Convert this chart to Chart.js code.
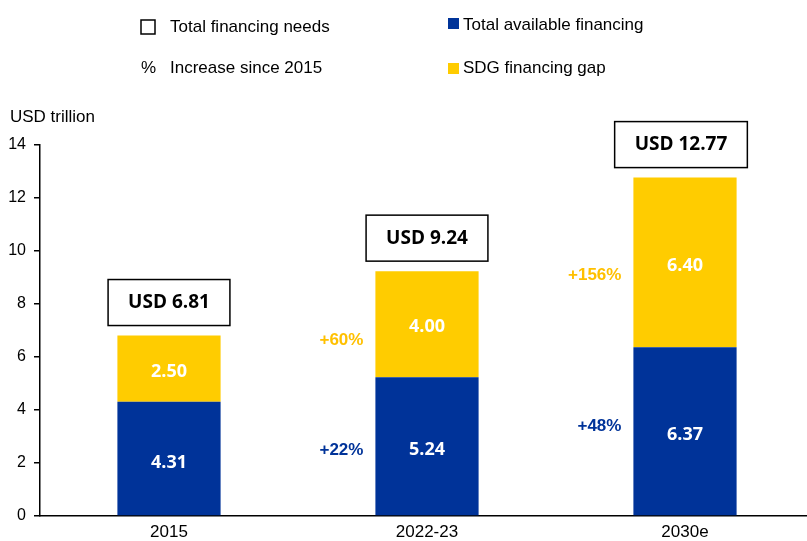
<!DOCTYPE html>
<html>
<head>
<meta charset="utf-8">
<script src="https://cdn.jsdelivr.net/npm/chart.js@4.4.1/dist/chart.umd.min.js"></script>
<style>
  html, body { margin: 0; padding: 0; background: #fff; overflow: hidden; }
</style>
</head>
<body>
<canvas id="myChart" width="814" height="541"></canvas>
<script>
const categories = ['2015', '2022-23', '2030e'];
const availableFinancing = [4.31, 5.24, 6.37];
const financingGap = [2.50, 4.00, 6.40];
const totalNeeds = [6.81, 9.24, 12.77];
const availableIncrease = [null, '+22%', '+48%'];
const gapIncrease = [null, '+60%', '+156%'];
const yMax = 14;
const yStep = 2;

const BLUE = '#003399';
const YELLOW = '#FFCC00';
const SANS = '"Liberation Sans", Arial, sans-serif';
const BOLD = '"Open Sans", sans-serif';

// nudges for the % labels, in pixels (they are not exactly centred in the original)
const availNudge = [0, 4, -5];
const gapNudge = [0, 16, 13];

const ctx = document.getElementById('myChart');

const annotate = {
  id: 'annotate',
  afterDatasetsDraw(chart) {
    const c = chart.ctx;
    const blueMeta = chart.getDatasetMeta(0);
    const gapMeta = chart.getDatasetMeta(1);
    c.save();
    c.textBaseline = 'middle';

    // values inside the bars
    c.font = 'bold 18px ' + BOLD;
    c.fillStyle = '#fff';
    c.textAlign = 'center';
    blueMeta.data.forEach((el, i) => {
      c.fillText(availableFinancing[i].toFixed(2), el.x, (el.y + el.base) / 2 + 4);
    });
    gapMeta.data.forEach((el, i) => {
      c.fillText(financingGap[i].toFixed(2), el.x, (el.y + el.base) / 2 + 3);
    });

    // total boxes
    c.font = 'bold 19px ' + BOLD;
    gapMeta.data.forEach((el, i) => {
      const txt = 'USD ' + totalNeeds[i].toFixed(2);
      const w = c.measureText(txt).width + 40;
      const h = 46;
      const bottom = el.y - 10;
      const cx = el.x - (i === 2 ? 4 : 0);
      c.fillStyle = '#fff';
      c.fillRect(cx - w / 2, bottom - h, w, h);
      c.strokeStyle = '#000';
      c.lineWidth = 1.5;
      c.strokeRect(cx - w / 2, bottom - h, w, h);
      c.fillStyle = '#000';
      c.fillText(txt, cx, bottom - h / 2);
    });

    // % increase labels
    c.font = 'bold 17px ' + SANS;
    c.textAlign = 'right';
    blueMeta.data.forEach((el, i) => {
      if (!availableIncrease[i]) return;
      c.fillStyle = BLUE;
      c.fillText(availableIncrease[i], el.x - el.width / 2 - 12, (el.y + el.base) / 2 + availNudge[i]);
    });
    gapMeta.data.forEach((el, i) => {
      if (!gapIncrease[i]) return;
      c.fillStyle = '#FFC000';
      c.fillText(gapIncrease[i], el.x - el.width / 2 - 12, (el.y + el.base) / 2 + gapNudge[i]);
    });

    // legend
    c.textAlign = 'left';
    c.font = '17px ' + SANS;
    c.fillStyle = '#000';
    c.strokeStyle = '#000';
    c.lineWidth = 1.5;
    c.strokeRect(141, 20, 14, 14);
    c.fillText('Total financing needs', 170, 27);
    c.fillText('%', 141, 68);
    c.fillText('Increase since 2015', 170, 68);
    c.fillStyle = BLUE;
    c.fillRect(448, 18, 11, 11);
    c.fillStyle = YELLOW;
    c.fillRect(448, 63, 11, 11);
    c.fillStyle = '#000';
    c.fillText('Total available financing', 463, 25);
    c.fillText('SDG financing gap', 463, 68);

    // unit label
    c.fillText('USD trillion', 10, 117);
    c.restore();
  }
};

const myChart = new Chart(ctx, {
  type: 'bar',
  data: {
    labels: categories,
    datasets: [
      {
        label: 'Total available financing',
        data: availableFinancing,
        backgroundColor: BLUE,
        barPercentage: 0.4,
        categoryPercentage: 1
      },
      {
        label: 'SDG financing gap',
        data: financingGap,
        backgroundColor: YELLOW,
        barPercentage: 0.4,
        categoryPercentage: 1
      }
    ]
  },
  options: {
    responsive: false,
    animation: false,
    devicePixelRatio: 1,
    events: [],
    layout: { padding: { top: 145, left: 0, right: 0, bottom: 0 } },
    plugins: {
      legend: { display: false },
      tooltip: { enabled: false }
    },
    scales: {
      x: {
        stacked: true,
        grid: { display: false, drawTicks: false },
        border: { display: true, color: '#000', width: 1.5 },
        ticks: { color: '#000', padding: 6, font: { family: SANS, size: 17 } },
        afterFit(scale) { scale.height = 25; }
      },
      y: {
        stacked: true,
        min: 0,
        max: yMax,
        grid: { drawOnChartArea: false, drawTicks: true, tickLength: 6, color: '#000', lineWidth: 1.5 },
        border: { display: true, color: '#000', width: 1.5 },
        ticks: { stepSize: yStep, color: '#000', padding: 8, font: { family: SANS, size: 16 } },
        afterFit(scale) { scale.width = 40; }
      }
    }
  },
  plugins: [annotate]
});
</script>
</body>
</html>
